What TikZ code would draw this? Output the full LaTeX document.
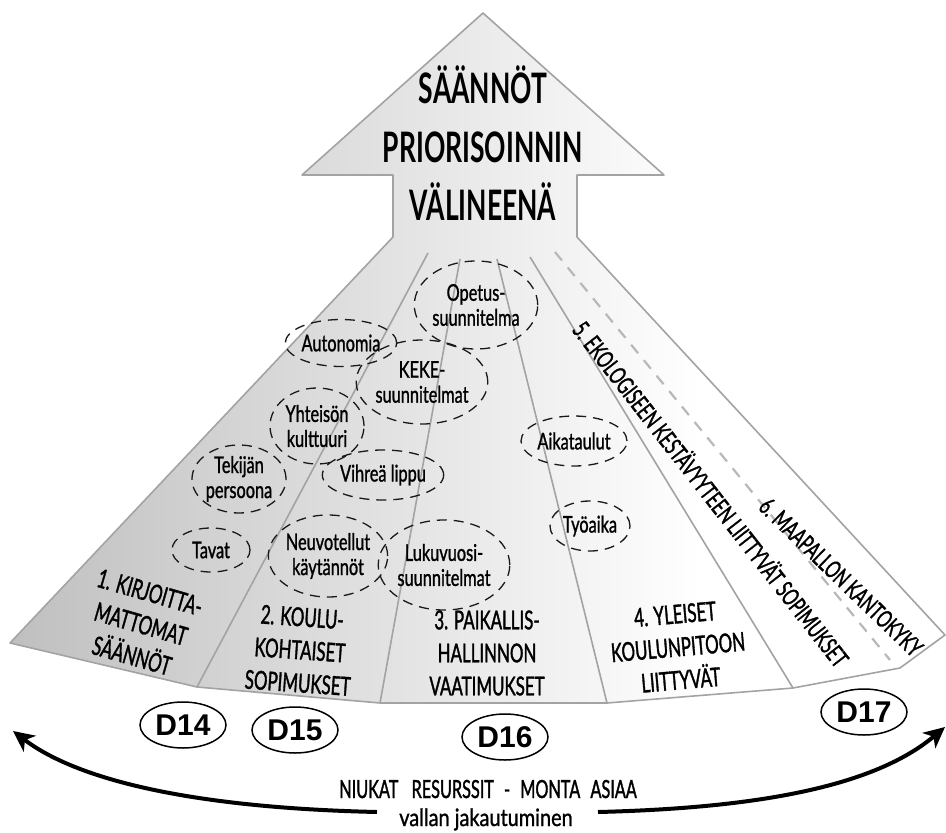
\documentclass[tikz,border=0pt]{standalone}
\usepackage{fontspec}
\setmainfont{Lato}
\newfontfamily\titlefont[FakeStretch=0.63]{Lato}
\newfontfamily\bandfont[FakeStretch=0.65,FakeBold=1.3]{Lato}
\newfontfamily\tagfont[FakeStretch=0.71,FakeBold=1.1]{Lato}
\newfontfamily\lowfont[FakeStretch=0.83,FakeBold=1.1]{Lato}
\newfontfamily\codefont{Liberation Sans}
\usetikzlibrary{shapes.geometric,arrows.meta}

\definecolor{outline}{gray}{0.64}
\definecolor{rulegray}{gray}{0.64}
\definecolor{dashgray}{gray}{0.72}
\definecolor{shadeleft}{gray}{0.75}
\pgfdeclarehorizontalshading{fanshade}{100bp}{color(0bp)=(shadeleft); color(25bp)=(shadeleft); color(62bp)=(white); color(100bp)=(white)}

\tikzset{
  idea/.style={ellipse, draw=black!90, dash pattern=on 10pt off 7pt, line width=1.3pt,
    inner sep=0pt, align=center, text=black,
    font=\tagfont\fontsize{23}{25}\selectfont},
  band/.style={align=center, text=black, inner sep=0pt,
    font=\bandfont\fontsize{26}{33}\selectfont},
  slantband/.style={text=black, inner sep=0pt,
    font=\bandfont\fontsize{24.5}{30}\selectfont},
  headline/.style={anchor=base, text=black, inner sep=0pt,
    font=\titlefont\bfseries\fontsize{42}{42}\selectfont},
  dtag/.style={ellipse, draw=black, line width=1.5pt, minimum width=86pt, minimum height=46pt,
    inner sep=0pt, font=\codefont\bfseries\fontsize{30}{30}\selectfont},
  divider/.style={draw=rulegray, line width=1.6pt},
  dashdiv/.style={draw=dashgray, line width=2.2pt, dash pattern=on 11pt off 9pt},
  bottomtext/.style={anchor=base, text=black, inner sep=0pt},
  bigarrow/.style={line width=4pt, -{Stealth[length=21pt,width=20pt,inset=6pt]}}
}

\begin{document}
\begin{tikzpicture}[x=1pt,y=-1pt]
\useasboundingbox (0,0) rectangle (946,833);

% arrow head, shaft and fan as one outline
\path[shading=fanshade, draw=outline, line width=1.6pt, line join=round]
  (483,13) -- (664,175) -- (577,175) -- (577,237) -- (945,635) -- (900,668)
  -- (793,688) -- (607,703) -- (380,703) -- (197,687) -- (10,643)
  -- (393,237) -- (393,175) -- (302,175) -- cycle;

% band dividers
\draw[divider] (428,253) -- (197,687);
\draw[divider] (460,259) -- (380,703);
\draw[divider] (497,259) -- (607,703);
\draw[divider] (530,257) -- (793,688);
\draw[dashdiv] (555,252) -- (890,660);

% heading in the arrow
\node[headline] (h1) at (483,103) {SÄÄNNÖT};
\node[headline] (h2) at (483,162) {PRIORISOINNIN};
\node[headline] (h3) at (483,220) {VÄLINEENÄ};

% dashed topic ellipses
\node[idea, minimum width=116pt, minimum height=88pt] (opetus) at (476,305) {Opetus-\\suunnitelma};
\node[idea, minimum width=96pt, minimum height=47pt] (autonomia) at (341,343) {Autonomia};
\node[idea, minimum width=104pt, minimum height=84pt] (keke) at (422,382) {KEKE-\\suunnitelmat};
\node[idea, minimum width=94pt, minimum height=76pt] (yhteiso) at (317,426) {Yhteisön\\kulttuuri};
\node[idea, minimum width=92pt, minimum height=68pt] (tekija) at (239,479) {Tekijän\\persoona};
\node[idea, minimum width=104pt, minimum height=50pt] (vihrea) at (383,475) {Vihreä lippu};
\node[idea, minimum width=78pt, minimum height=44pt] (tavat) at (211,550) {Tavat};
\node[idea, minimum width=106pt, minimum height=82pt] (neuvo) at (328,556) {Neuvotellut\\käytännöt};
\node[idea, minimum width=120pt, minimum height=90pt] (lukuvuosi) at (444,565) {Lukuvuosi-\\suunnitelmat};
\node[idea, minimum width=106pt, minimum height=50pt] (aikataulut) at (574,441) {Aikataulut};
\node[idea, minimum width=80pt, minimum height=50pt] (tyoaika) at (590,526) {Työaika};

% band titles
\node[band, rotate=-16] (b1) at (141,624) {1. KIRJOITTA-\\MATTOMAT\\SÄÄNNÖT};
\node[band, rotate=-4] (b2) at (300,650) {2. KOULU-\\KOHTAISET\\SOPIMUKSET};
\node[band] (b3) at (487,653) {3. PAIKALLIS-\\HALLINNON\\VAATIMUKSET};
\node[band, rotate=5] (b4) at (678,647) {4. YLEISET\\KOULUNPITOON\\LIITTYVÄT};
\node[slantband, rotate=-52] (b5) at (712,493) {5. EKOLOGISEEN KESTÄVYYTEEN LIITTYVÄT SOPIMUKSET};
\node[slantband, rotate=-44] (b6) at (841,577) {6. MAAPALLON KANTOKYKY};

% chapter tags
\node[dtag] (d14) at (183,725) {D14};
\node[dtag] (d15) at (295,730) {D15};
\node[dtag] (d16) at (505,737) {D16};
\node[dtag] (d17) at (864,712) {D17};

% bottom caption
\node[bottomtext, font=\bandfont\fontsize{25}{25}\selectfont] (cap1) at (488,798)
  {NIUKAT\hspace{9pt} RESURSSIT\hspace{6pt} -\hspace{6pt} MONTA\hspace{6pt} ASIAA};
\node[bottomtext, font=\lowfont\fontsize{24}{24}\selectfont] (cap2) at (486,826)
  {vallan jakautuminen};

% curved arrows out of the caption
\coordinate (lstart) at (377,812);
\coordinate (lend) at (13,731);
\coordinate (rstart) at (598,812);
\coordinate (rend) at (945,727);
\draw[bigarrow] (lstart) .. controls (200,808) and (80,782) .. (lend);
\draw[bigarrow] (rstart) .. controls (760,808) and (875,786) .. (rend);
\end{tikzpicture}
\end{document}
